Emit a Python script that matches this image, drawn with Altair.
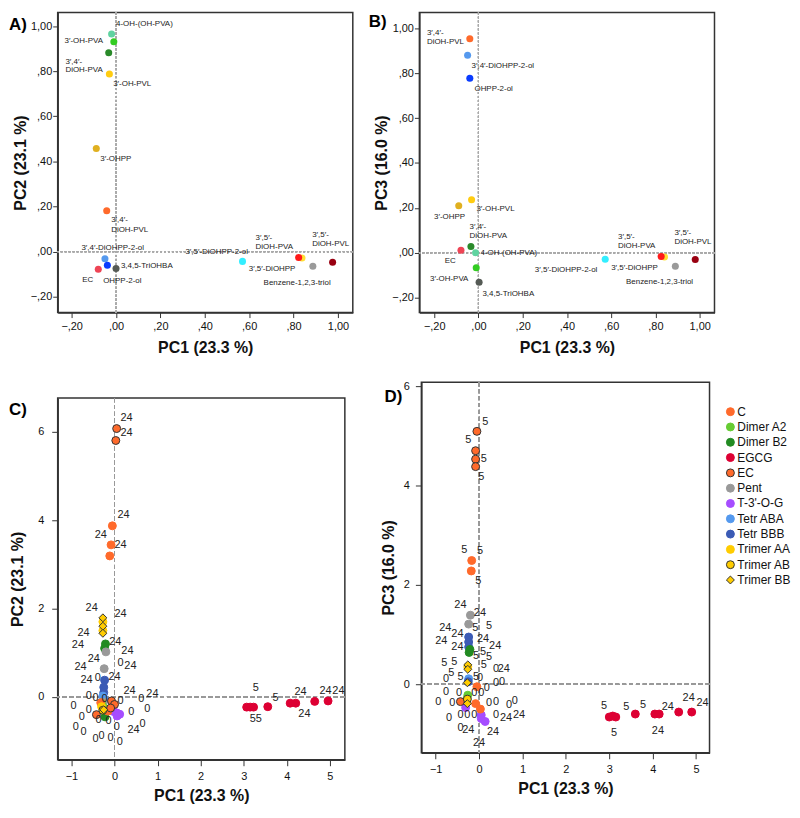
import altair as alt
import pandas as pd

FONT = "Liberation Sans"
P = "\u2032"

# ---------------- Panels A & B : loadings ----------------
met_names = ["4-OH-(OH-PVA)", f"3{P}-OH-PVA", f"3{P},4{P}-DiOH-PVA", f"3{P}-OH-PVL", f"3{P}-OHPP",
             f"3{P},4{P}-DiOH-PVL", f"3{P},4{P}-DiOHPP-2-ol", "OHPP-2-ol", "EC", "3,4,5-TriOHBA",
             f"3{P},5{P}-DiOHPP-2-ol", f"3{P},5{P}-DiOHPP", f"3{P},5{P}-DiOH-PVA",
             "Benzene-1,2,3-triol", f"3{P},5{P}-DiOH-PVL"]
met_colors = ["#5fd3a0", "#33cc22", "#2a8a2a", "#ffcc11", "#e0b020",
              "#ff6a2b", "#5599ee", "#0a3cff", "#ee4455", "#555a55",
              "#33eeff", "#ffe033", "#ff1a1a", "#9a9a9a", "#990011"]
A_pc1 = [-0.02, -0.01, -0.033, -0.03, -0.089, -0.042, -0.05, -0.039, -0.08, 0.0,
         0.57, 0.838, 0.823, 0.887, 0.976]
A_pc2 = [0.965, 0.93, 0.882, 0.788, 0.457, 0.181, -0.031, -0.06, -0.078, -0.075,
         -0.043, -0.028, -0.026, -0.065, -0.047]
B_pc1 = [-0.013, -0.01, -0.034, -0.031, -0.089, -0.039, -0.049, -0.039, -0.079, 0.003,
         0.573, 0.841, 0.826, 0.89, 0.98]
B_pc3 = [0.0, -0.066, 0.028, 0.236, 0.21, 0.953, 0.88, 0.777, 0.012, -0.131,
         -0.028, -0.018, -0.016, -0.06, -0.03]

A_lab_text = ["4-OH-(OH-PVA)", f"3{P}-OH-PVA", f"3{P},4{P}-", "DiOH-PVA", f"3{P}-OH-PVL", f"3{P}-OHPP",
              f"3{P},4{P}-", "DiOH-PVL", f"3{P},4{P}-DiOHPP-2-ol", "3,4,5-TriOHBA", "EC", "OHPP-2-ol",
              f"3{P},5{P}-DiOHPP-2-ol", f"3{P},5{P}-", "DiOH-PVA", f"3{P},5{P}-", "DiOH-PVL",
              f"3{P},5{P}-DiOHPP", "Benzene-1,2,3-triol"]
A_lab_x = [0.0, -0.232, -0.228, -0.228, -0.013, -0.071, -0.022, -0.022, -0.156, 0.022, -0.152, -0.058,
           0.3125, 0.629, 0.629, 0.884, 0.884, 0.598, 0.665]
A_lab_y = [1.011, 0.932, 0.839, 0.804, 0.742, 0.411, 0.139, 0.097, 0.018, -0.062, -0.126, -0.128,
           0.0, 0.062, 0.022, 0.075, 0.035, -0.075, -0.137]

B_lab_text = [f"3{P},4{P}-", "DiOH-PVL", f"3{P},4{P}-DiOHPP-2-ol", "OHPP-2-ol", f"3{P}-OH-PVL", f"3{P}-OHPP",
              f"3{P},4{P}-", "DiOH-PVA", "4-OH-(OH-PVA)", "EC", f"3{P}-OH-PVA", "3,4,5-TriOHBA",
              f"3{P},5{P}-DiOHPP-2-ol", f"3{P},5{P}-DiOHPP", "Benzene-1,2,3-triol",
              f"3{P},5{P}-", "DiOH-PVA", f"3{P},5{P}-", "DiOH-PVL"]
B_lab_x = [-0.233, -0.233, -0.031, -0.018, -0.009, -0.201, -0.04, -0.04, 0.009, -0.152, -0.219, 0.018,
           0.255, 0.6, 0.667, 0.631, 0.631, 0.886, 0.886]
B_lab_y = [0.978, 0.938, 0.833, 0.731, 0.194, 0.159, 0.115, 0.075, 0.0, -0.035, -0.115, -0.181,
           -0.075, -0.066, -0.132, 0.070, 0.031, 0.088, 0.048]

# ---------------- Panels C & D : scores ----------------
groups = ["C", "Dimer A2", "Dimer B2", "EGCG", "EC", "Pent", "T-3'-O-G", "Tetr ABA", "Tetr BBB",
          "Trimer AA", "Trimer AB", "Trimer BB"]
group_fill = ["#ff6a2b", "#66cc33", "#228b22", "#dd0033", "#ff6a2b", "#999999", "#a64dff",
              "#5599ee", "#3b5bb5", "#ffcc00", "#ffcc00", "#ffcc00"]
group_stroke = ["#ff6a2b", "#66cc33", "#228b22", "#dd0033", "#333333", "#999999", "#a64dff",
                "#5599ee", "#3b5bb5", "#ffcc00", "#333333", "#333333"]
group_shape = ["circle"] * 11 + ["diamond"]
group_size = [64] * 11 + [110]

C_group = ["Trimer AA", "Trimer AA", "Dimer B2", "Dimer B2", "Pent", "Pent",
           "Tetr BBB", "Tetr BBB", "Tetr BBB", "Tetr ABA", "Tetr ABA", "Pent",
           "Dimer A2", "Dimer A2", "Dimer B2",
           "T-3'-O-G", "T-3'-O-G", "T-3'-O-G", "T-3'-O-G",
           "C", "C", "EC", "EC", "EC", "EC", "Trimer AA", "Trimer AB",
           "Trimer BB", "Trimer BB", "Trimer BB", "Trimer BB",
           "C", "C", "C", "EC", "EC",
           "EGCG", "EGCG", "EGCG", "EGCG", "EGCG", "EGCG", "EGCG", "EGCG"]
C_pc1 = [-0.27, -0.27, -0.21, -0.23, -0.20, -0.24,
         -0.23, -0.25, -0.25, -0.27, -0.24, -0.26,
         -0.30, -0.27, -0.22,
         -0.02, 0.05, 0.12, 0.06,
         -0.32, -0.15, -0.07, 0.0, -0.09, -0.42, -0.30, -0.27,
         -0.27, -0.27, -0.27, -0.25,
         -0.05, -0.08, -0.11, 0.05, 0.03,
         3.07, 3.15, 3.23, 3.56, 4.08, 4.21, 4.65, 4.96]
C_pc2 = [1.70, 1.50, 1.20, 1.10, 1.02, 0.64,
         0.38, 0.22, 0.10, 0.02, -0.07, -0.12,
         -0.14, -0.22, -0.45,
         -0.33, -0.36, -0.39, -0.43,
         -0.13, -0.32, -0.09, -0.17, -0.25, -0.40, -0.22, -0.30,
         1.79, 1.60, 1.44, -0.29,
         3.87, 3.44, 3.19, 6.07, 5.80,
         -0.23, -0.23, -0.23, -0.22, -0.14, -0.14, -0.10, -0.09]

C_lab_text = ["24", "24", "24", "24", "24",
              "24", "24", "24", "24", "24", "24", "24", "24", "24", "24", "24", "24", "24", "24",
              "0", "0", "0", "0", "0", "0", "0", "0", "0", "0", "0", "0", "0", "0", "0", "0", "0",
              "0", "0", "0", "0", "0",
              "5", "5", "24", "24", "24", "24", "55"]
C_lab_x = [0.28, 0.28, 0.21, -0.32, 0.14,
           -0.53, 0.14, -0.72, 0.02, -0.85, 0.30, -0.48, -0.79, 0.37, -0.65, 0.0, 0.35, 0.88, 0.44,
           0.14, -0.39, -0.6, -0.44, -0.23, 0.14, 0.62, -0.95, -0.6, 0.76, 0.39, -0.76, -0.37, -0.14,
           0.65, -0.9, -0.72, 0.05, -0.44, -0.3, -0.09, 0.12,
           3.28, 3.74, 4.32, 4.41, 4.9, 5.2, 3.28]
C_lab_y = [6.31, 5.98, 4.11, 3.66, 3.44,
           2.02, 1.87, 1.44, 1.24, 1.17, 1.03, 0.85, 0.67, 0.70, 0.38, 0.45, 0.13, 0.07, -0.74,
           0.76, 0.43, 0.02, -0.02, -0.04, -0.09, -0.04, -0.2, -0.29, -0.27, -0.34, -0.45, -0.52, -0.54,
           -0.61, -0.67, -0.79, -0.67, -0.94, -0.88, -0.92, -1.03,
           0.2, -0.02, 0.11, -0.38, 0.13, 0.13, -0.49]

D_group = ["Trimer AA", "Pent", "Pent", "Tetr BBB", "Tetr BBB", "Tetr BBB", "Dimer B2", "Dimer B2",
           "Tetr ABA", "Tetr BBB", "Dimer A2", "Dimer A2",
           "T-3'-O-G", "T-3'-O-G", "T-3'-O-G", "T-3'-O-G",
           "C", "C", "C", "EC", "Trimer AB",
           "Trimer BB", "Trimer BB", "Trimer BB", "Trimer BB",
           "C", "C", "EC", "EC", "EC", "EC",
           "EGCG", "EGCG", "EGCG", "EGCG", "EGCG", "EGCG", "EGCG", "EGCG"]
D_pc1 = [-0.26, -0.20, -0.24, -0.24, -0.24, -0.24, -0.21, -0.23,
         -0.24, -0.25, -0.26, -0.28,
         -0.31, 0.05, 0.05, 0.14,
         -0.05, -0.08, 0.03, -0.43, -0.27,
         -0.26, -0.26, -0.27, -0.27,
         -0.17, -0.18, -0.05, -0.08, -0.08, -0.08,
         3.00, 3.08, 3.15, 3.60, 4.05, 4.15, 4.60, 4.90]
D_pc3 = [0.35, 1.39, 1.21, 0.95, 0.85, 0.75, 0.70, 0.64,
         0.11, 0.05, -0.22, -0.30,
         -0.47, -0.62, -0.69, -0.75,
         -0.05, -0.39, -0.50, -0.35, -0.30,
         0.39, 0.30, 0.03, -0.39,
         2.49, 2.28, 5.09, 4.70, 4.53, 4.38,
         -0.66, -0.64, -0.66, -0.60, -0.60, -0.60, -0.56, -0.56]

D_lab_text = ["5", "5", "5", "5", "5", "5", "5",
              "24", "24", "24", "24", "24", "24", "24", "24", "24", "24", "24", "24", "24", "24",
              "5", "5", "5", "5", "5", "5", "5", "5", "5", "5", "5",
              "0", "0", "0", "0", "0", "0", "0", "0", "0", "0", "0", "0", "0", "0", "0", "0",
              "0", "0", "0", "0", "0", "0",
              "5", "5", "5", "5", "24", "24", "24", "24"]
D_lab_x = [0.14, -0.25, 0.11, 0.05, -0.34, 0.02, -0.02,
           -0.43, 0.02, -0.78, -0.5, -0.87, 0.09, 0.37, -0.5, 0.57, 0.62, 0.92, -0.25, 0.32, 0.0,
           -0.09, 0.23, -0.07, 0.09, 0.23, -0.8, -0.57, 0.11, -0.64, -0.43, -0.07,
           -0.76, 0.02, 0.39, 0.39, 0.53, 0.18, -0.76, -0.46, -0.11, 0.05, -0.94, -0.62, 0.23, 0.39,
           0.69, 0.82, -0.69, -0.43, -0.27, -0.11, 0.39, -0.43,
           2.88, 3.39, 3.78, 3.11, 4.35, 4.12, 4.83, 5.15]
D_lab_y = [5.28, 4.92, 4.54, 4.18, 2.7, 2.68, 2.08,
           1.6, 1.44, 1.14, 1.02, 0.86, 0.92, 0.76, 0.74, 0.3, -0.68, -0.62, -0.92, -0.96, -1.18,
           1.14, 1.18, 0.56, 0.64, 0.54, 0.42, 0.44, 0.38, 0.22, 0.14, 0.14,
           0.1, 0.12, 0.3, 0.02, 0.04, -0.08, -0.16, -0.18, -0.18, -0.18, -0.36, -0.38, -0.38, -0.36,
           -0.42, -0.34, -0.68, -0.62, -0.62, -0.62, -0.62, -0.88,
           -0.44, -0.46, -0.42, -0.98, -0.46, -0.94, -0.28, -0.38]

# ---------------- builders ----------------
AB_TICKS = [-0.2, 0.0, 0.2, 0.4, 0.6, 0.8, 1.0]
EURO = "replace(replace(format(datum.value, '.2f'), '0.', ','), '.', ',')"


def letter_layer(letter, dx, dy):
    return alt.Chart(pd.DataFrame({"t": [letter]})).mark_text(
        align="left", baseline="middle", fontSize=17, fontWeight="bold", font=FONT, color="#000"
    ).encode(text="t:N", x=alt.value(dx), y=alt.value(dy))


def loading_panel(xs, ys, lt, lx, ly, xdom, ydom, ytitle, letter, ldx, ldy):
    pts = pd.DataFrame({"name": met_names, "x": xs, "y": ys})
    labs = pd.DataFrame({"t": lt, "x": lx, "y": ly})
    xsc = alt.Scale(domain=xdom, nice=False, zero=False)
    ysc = alt.Scale(domain=ydom, nice=False, zero=False)
    xax = alt.Axis(values=AB_TICKS, labelExpr=EURO, title="PC1 (23.3 %)", grid=False,
                   tickSize=5, labelPadding=3, titlePadding=8)
    yax = alt.Axis(values=AB_TICKS, labelExpr=EURO, title=ytitle, grid=False,
                   tickSize=5, labelPadding=1, titlePadding=2)
    vr = alt.Chart(pts).mark_rule(color="#aaaaaa", strokeDash=[2, 2], strokeWidth=1).encode(x=alt.datum(0))
    hr = alt.Chart(pts).mark_rule(color="#aaaaaa", strokeDash=[2, 2], strokeWidth=1).encode(y=alt.datum(0))
    dots = alt.Chart(pts).mark_circle(size=50, opacity=1).encode(
        x=alt.X("x:Q", scale=xsc, axis=xax),
        y=alt.Y("y:Q", scale=ysc, axis=yax),
        color=alt.Color("name:N", scale=alt.Scale(domain=met_names, range=met_colors), legend=None),
    )
    text = alt.Chart(labs).mark_text(align="left", baseline="middle", fontSize=8, font=FONT,
                                     color="#222").encode(
        x=alt.X("x:Q", scale=xsc), y=alt.Y("y:Q", scale=ysc), text="t:N")
    return alt.layer(vr, hr, dots, text, letter_layer(letter, ldx, ldy)).properties(width=297, height=302)


def group_encodings():
    return dict(
        fill=alt.Fill("g:N", scale=alt.Scale(domain=groups, range=group_fill), legend=None),
        stroke=alt.Stroke("g:N", scale=alt.Scale(domain=groups, range=group_stroke), legend=None),
        shape=alt.Shape("g:N", scale=alt.Scale(domain=groups, range=group_shape), legend=None),
        size=alt.Size("g:N", scale=alt.Scale(domain=groups, range=group_size), legend=None),
    )


def score_panel(gs, xs, ys, lt, lx, ly, xdom, ydom, ytitle, letter, ldx, ldy, w, h, ytp, lpad):
    pts = pd.DataFrame({"g": gs, "x": xs, "y": ys})
    labs = pd.DataFrame({"t": lt, "x": lx, "y": ly})
    xsc = alt.Scale(domain=xdom, nice=False, zero=False)
    ysc = alt.Scale(domain=ydom, nice=False, zero=False)
    xax = alt.Axis(values=[-1, 0, 1, 2, 3, 4, 5], format="d", title="PC1 (23.3 %)", grid=False,
                   tickSize=6, labelPadding=5, titlePadding=6)
    yax = alt.Axis(values=[0, 2, 4, 6], format="d", title=ytitle, grid=False,
                   tickSize=6, labelPadding=lpad, titlePadding=ytp)
    vr = alt.Chart(pts).mark_rule(color="#999999", strokeDash=[4, 3], strokeWidth=1).encode(x=alt.datum(0))
    hr = alt.Chart(pts).mark_rule(color="#999999", strokeDash=[4, 3], strokeWidth=1).encode(y=alt.datum(0))
    dots = alt.Chart(pts).mark_point(filled=True, opacity=1, strokeWidth=1).encode(
        x=alt.X("x:Q", scale=xsc, axis=xax),
        y=alt.Y("y:Q", scale=ysc, axis=yax),
        **group_encodings(),
    )
    text = alt.Chart(labs).mark_text(align="center", baseline="middle", fontSize=11, font=FONT,
                                     color="#222").encode(
        x=alt.X("x:Q", scale=xsc), y=alt.Y("y:Q", scale=ysc), text="t:N")
    return alt.layer(vr, hr, dots, text, letter_layer(letter, ldx, ldy)).properties(width=w, height=h)


A = loading_panel(A_pc1, A_pc2, A_lab_text, A_lab_x, A_lab_y, [-0.263, 1.067], [-0.27, 1.06],
                  "PC2 (23.1 %)", "A)", -49, 13)
B = loading_panel(B_pc1, B_pc3, B_lab_text, B_lab_x, B_lab_y, [-0.267, 1.067], [-0.266, 1.07],
                  "PC3 (16.0 %)", "B)", -51, 10)
C = score_panel(C_group, C_pc1, C_pc2, C_lab_text, C_lab_x, C_lab_y, [-1.32, 5.35], [-1.42, 6.76],
                "PC2 (23.1 %)", "C)", -49, 12, 289, 364, 12, 8)
D = score_panel(D_group, D_pc1, D_pc3, D_lab_text, D_lab_x, D_lab_y, [-1.33, 5.31], [-1.38, 6.08],
                "PC3 (16.0 %)", "D)", -37, 15, 290, 373, 7, 6)

# legend drawn as its own small chart (ordinal y scale over the group names)
leg_df = pd.DataFrame({"g": groups})
leg_y = alt.Y("g:N", scale=alt.Scale(type="point", domain=groups, range=[22, 22 + 11 * 16.8]), axis=None)
leg_sym = alt.Chart(leg_df).mark_point(filled=True, opacity=1, strokeWidth=1).encode(
    x=alt.value(5), y=leg_y, **group_encodings())
leg_txt = alt.Chart(leg_df).mark_text(align="left", baseline="middle", fontSize=12, font=FONT,
                                      color="#111").encode(x=alt.value(12), y=leg_y, text="g:N")
legend = alt.layer(leg_sym, leg_txt).properties(width=50, height=230,
                                               view=alt.ViewBackground(stroke="transparent"))

spacer = alt.Chart(pd.DataFrame({"v": [0]})).mark_point(opacity=0).encode(
    x=alt.value(0), y=alt.value(0)).properties(width=289, height=1,
                                               view=alt.ViewBackground(stroke="transparent"))
colC = alt.vconcat(spacer, C, spacing=10)
colD = alt.hconcat(D, legend, spacing=12)

row1 = alt.hconcat(A, B, spacing=13)
row2 = alt.hconcat(colC, colD, spacing=33)
chart = alt.vconcat(row1, row2, spacing=22).properties(
    padding={"left": 0, "top": 0, "right": 0, "bottom": 0}
).configure_view(stroke="#333333", strokeWidth=1.5).configure_axis(
    domainColor="#333333", domainWidth=1.5, tickColor="#333333", labelFont=FONT, titleFont=FONT,
    labelFontSize=11, titleFontSize=16, titleFontWeight="bold", labelColor="#111111", titleColor="#111111"
)

chart.save("out.html", embed_options={"renderer": "svg", "actions": False})
